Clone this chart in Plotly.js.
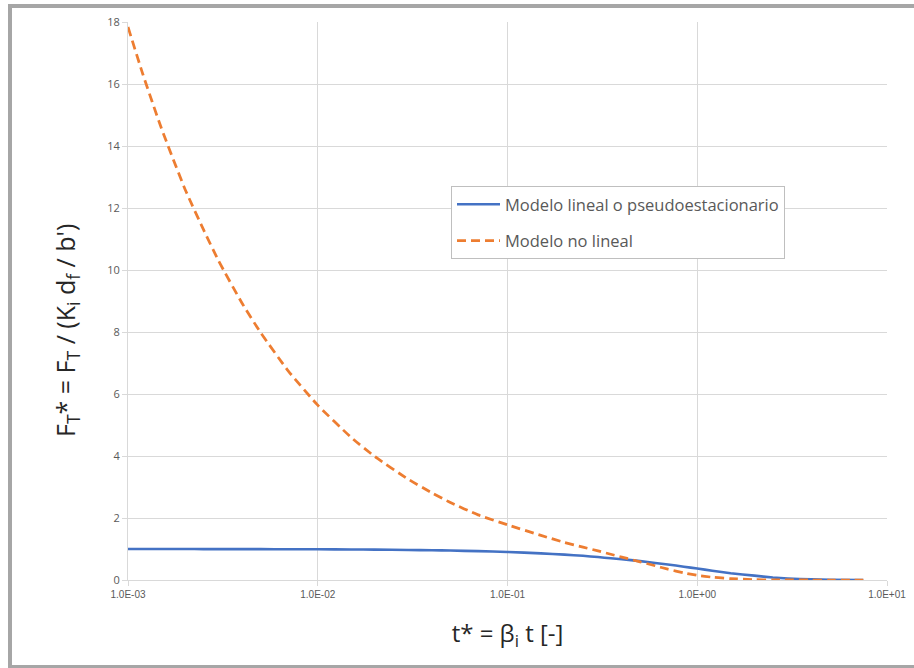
<!DOCTYPE html>
<html>
<head>
<meta charset="utf-8">
<script src="https://cdn.plot.ly/plotly-3.0.1.min.js"></script>
<style>
html,body{margin:0;padding:0;background:#fff;}
#chart{width:914px;height:668px;}
</style>
</head>
<body>
<div id="chart"></div>
<script>
// t* values (log axis)
const tStar = [0.001, 0.0012, 0.0015, 0.002, 0.0025, 0.003, 0.004, 0.005, 0.007, 0.01, 0.015, 0.02, 0.03, 0.04, 0.05, 0.07, 0.1, 0.15, 0.2, 0.25, 0.3, 0.35, 0.4, 0.5, 0.6, 0.7, 0.85, 1.0, 1.2, 1.5, 2.0, 2.5, 3.0, 4.0, 5.0, 7.5];
// Modelo lineal o pseudoestacionario
const linearModel = [1.0, 0.999, 0.998, 0.998, 0.997, 0.997, 0.996, 0.995, 0.993, 0.99, 0.985, 0.98, 0.97, 0.96, 0.95, 0.93, 0.905, 0.86, 0.82, 0.78, 0.74, 0.70, 0.67, 0.61, 0.55, 0.50, 0.43, 0.37, 0.30, 0.22, 0.14, 0.08, 0.05, 0.02, 0.007, 0.001];
// Modelo no lineal
const nonLinearModel = [17.84, 16.3, 14.57, 12.6, 11.3, 10.3, 8.92, 7.98, 6.74, 5.64, 4.6, 3.98, 3.25, 2.81, 2.5, 2.1, 1.78, 1.44, 1.21, 1.06, 0.94, 0.83, 0.74, 0.585, 0.46, 0.35, 0.23, 0.15, 0.09, 0.045, 0.012, 0.003, 0.001, 0.0, 0.0, 0.0];

const seriesNames = ["Modelo lineal o pseudoestacionario", "Modelo no lineal"];
const xTickVals = [0.001, 0.01, 0.1, 1, 10];
const xTickText = ["1.0E-03", "1.0E-02", "1.0E-01", "1.0E+00", "1.0E+01"];
const yTickVals = [0, 2, 4, 6, 8, 10, 12, 14, 16, 18];
const xTitle = 't* = β<sub>i</sub> t [-]';
const yTitle = "F<sub>T</sub>* = F<sub>T</sub> / (K<sub>i</sub> d<sub>f</sub> / b')";

// plot area in pixels (for frame shapes / title placement)
const L = 128, R = 887, T = 22, B = 580;
const px = v => (v - L) / (R - L);
const py = v => (B - v) / (B - T);

const traces = [
  {
    x: tStar, y: linearModel, type: 'scatter', mode: 'lines',
    name: seriesNames[0], legendgroup: 'a',
    line: {color: '#4472C4', width: 2.6, shape: 'spline', smoothing: 0.5}
  },
  {
    x: tStar, y: nonLinearModel, type: 'scatter', mode: 'lines',
    name: seriesNames[1], legendgroup: 'b',
    line: {color: '#ED7D31', width: 2.75, dash: '9px,5px', shape: 'spline', smoothing: 0.5}
  }
];

const frameColor = '#a6a6a6';
const titleFont = {family: 'Open Sans, Liberation Sans, sans-serif', size: 25, color: '#262626'};
const layout = {
  width: 914, height: 668,
  paper_bgcolor: '#ffffff', plot_bgcolor: '#ffffff',
  margin: {l: L, r: 914 - R, t: T, b: 668 - B},
  showlegend: true,
  legend: {
    x: px(451), y: py(186), xanchor: 'left', yanchor: 'top',
    bordercolor: '#bfbfbf', borderwidth: 1, bgcolor: '#ffffff',
    font: {family: 'Open Sans, Liberation Sans, sans-serif', size: 16.5, color: '#595959'},
    traceorder: 'grouped', tracegroupgap: 12, itemwidth: 43
  },
  xaxis: {
    type: 'log', range: [-3, 1],
    tickvals: xTickVals, ticktext: xTickText,
    tickfont: {family: 'Liberation Sans Narrow, Arial Narrow, Liberation Sans, sans-serif', size: 10, color: '#595959'},
    showgrid: true, gridcolor: '#d9d9d9', gridwidth: 1,
    showline: true, linecolor: '#d9d9d9', linewidth: 1,
    ticks: 'outside', ticklen: 5, tickcolor: '#d9d9d9',
    zeroline: false, automargin: false,
    title: {text: xTitle, font: {family: titleFont.family, size: 24, color: titleFont.color}, standoff: 26}
  },
  yaxis: {
    range: [0, 18], tickvals: yTickVals,
    tickfont: {family: 'Open Sans, Liberation Sans, sans-serif', size: 11, color: '#595959'},
    showgrid: true, gridcolor: '#d9d9d9', gridwidth: 1,
    showline: true, linecolor: '#d9d9d9', linewidth: 1,
    ticks: 'outside', ticklen: 5, tickcolor: '#d9d9d9',
    zeroline: false, automargin: false
  },
  annotations: [
    {text: yTitle, xref: 'paper', yref: 'paper', x: px(66), y: py(331),
     xanchor: 'center', yanchor: 'middle', textangle: -90, showarrow: false, font: titleFont}
  ],
  shapes: [
    {type: 'line', xref: 'paper', yref: 'paper', x0: px(8), x1: px(914), y0: py(6), y1: py(6), line: {color: frameColor, width: 4}},
    {type: 'line', xref: 'paper', yref: 'paper', x0: px(10), x1: px(10), y0: py(4), y1: py(668), line: {color: frameColor, width: 4}},
    {type: 'line', xref: 'paper', yref: 'paper', x0: px(8), x1: px(914), y0: py(666.5), y1: py(666.5), line: {color: frameColor, width: 3}}
  ]
};

Plotly.newPlot('chart', traces, layout, {displayModeBar: false, staticPlot: true});
</script>
</body>
</html>
